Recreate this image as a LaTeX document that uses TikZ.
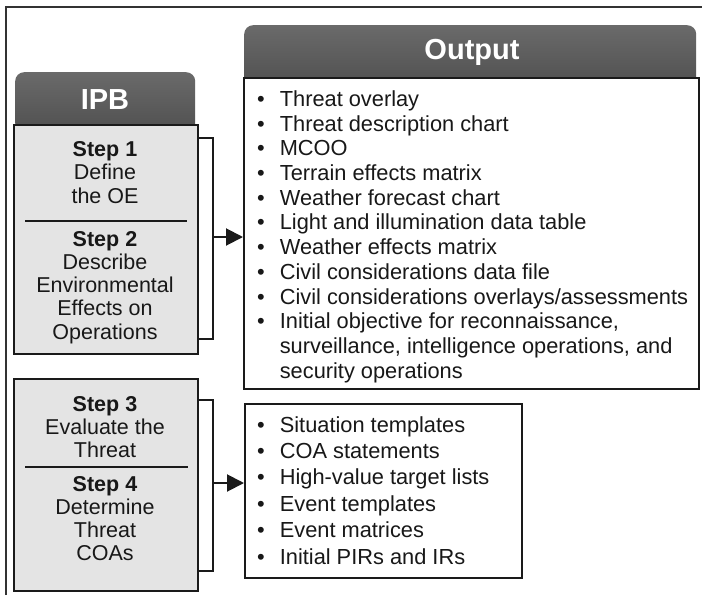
\documentclass[tikz,border=0pt]{standalone}
\usepackage{fontspec}
\setmainfont{Liberation Sans}
\usetikzlibrary{arrows.meta,positioning,calc}
\definecolor{txt}{HTML}{181818}
\definecolor{hdrtop}{HTML}{6A6A6A}
\definecolor{hdrmid}{HTML}{474747}
\definecolor{hdrbot}{HTML}{505050}
\definecolor{stepfill}{HTML}{E4E4E4}
\definecolor{frame}{HTML}{1A1A1A}
\tikzset{
  hdr/.style={rounded corners=9pt, top color=hdrtop, middle color=hdrmid, bottom color=hdrbot, draw=none},
  ipbbody/.style={draw=frame, line width=2.4pt, fill=stepfill, minimum width=184pt, inner sep=0pt},
  outbody/.style={draw=frame, line width=2.4pt, fill=white, inner sep=0pt},
  steptext/.style={inner sep=0pt, anchor=north, text=txt, font=\fontsize{21.5}{23.5}\selectfont},
  listtext/.style={inner sep=0pt, anchor=north west, text=txt},
  hdrtext/.style={inner sep=0pt, text=white, font=\fontsize{29}{32}\selectfont\bfseries},
  sepline/.style={draw=frame, line width=1.8pt},
  bracket/.style={draw=frame, line width=2pt},
  feed/.style={draw=frame, line width=2pt, -{Triangle[length=17pt,width=17pt]}},
  outerframe/.style={draw=black!80, line width=1.2pt}
}
\begin{document}
\begin{tikzpicture}[x=1pt,y=-1pt]
\useasboundingbox (0,0) rectangle (702,595);
\fill[white] (0,0) rectangle (702,595);
% outer frame (top and left edges)
\coordinate (fa) at (6,595);
\coordinate (fb) at (6,7);
\coordinate (fc) at (702,7);
\draw[outerframe] (fa) -- (fb) -- (fc);

% ---------- IPB upper ----------
\node[hdr, minimum width=180pt, minimum height=60pt, anchor=north west] (ipbhdr) at (15,72) {};
\node[ipbbody, minimum height=229pt, anchor=north west] (ipb1) at (13,124) {};
\node[hdrtext] (ipbtitle) at (105,99.5) {IPB};
\node[steptext] (s1) at (105,139.5) {\begin{tabular}{@{}c@{}}\textbf{Step 1}\\Define\\the OE\end{tabular}};
\coordinate (sep1a) at (25,221);
\coordinate (sep1b) at (187,221);
\draw[sepline] (sep1a) -- (sep1b);
\node[steptext, font=\fontsize{21.5}{23.3}\selectfont] (s2) at (105,229.5) {\begin{tabular}{@{}c@{}}\textbf{Step 2}\\Describe\\Environmental\\Effects on\\Operations\end{tabular}};

% ---------- IPB lower ----------
\node[ipbbody, minimum height=212pt, anchor=north west] (ipb2) at (13,378) {};
\node[steptext, font=\fontsize{21.5}{23.3}\selectfont] (s3) at (105,394.5) {\begin{tabular}{@{}c@{}}\textbf{Step 3}\\Evaluate the\\Threat\end{tabular}};
\coordinate (sep2a) at (25,467);
\coordinate (sep2b) at (188,467);
\draw[sepline] (sep2a) -- (sep2b);
\node[steptext, font=\fontsize{21.5}{23.3}\selectfont] (s4) at (105,474.5) {\begin{tabular}{@{}c@{}}\textbf{Step 4}\\Determine\\Threat\\COAs\end{tabular}};

% ---------- Output upper ----------
\node[hdr, minimum width=452pt, minimum height=62pt, anchor=north west] (outhdr) at (244,25) {};
\node[outbody, minimum width=455pt, minimum height=311pt, anchor=north west] (out1) at (243,77) {};
\node[hdrtext] (outtitle) at (472,52) {Output};
\node[listtext, font=\fontsize{21.8}{24.7}\selectfont] (list1) at (257,89) {%
\begin{tabular}{@{}l@{\hspace{15pt}}l@{}}
\textbullet & Threat overlay\\
\textbullet & Threat description chart\\
\textbullet & MCOO\\
\textbullet & Terrain effects matrix\\
\textbullet & Weather forecast chart\\
\textbullet & Light and illumination data table\\
\textbullet & Weather effects matrix\\
\textbullet & Civil considerations data file\\
\textbullet & Civil considerations overlays/assessments\\
\textbullet & Initial objective for reconnaissance,\\
 & surveillance, intelligence operations, and\\
 & security operations
\end{tabular}};

% ---------- Output lower ----------
\node[outbody, minimum width=277pt, minimum height=174pt, anchor=north west] (out2) at (244,403) {};
\node[listtext, font=\fontsize{21.8}{26.4}\selectfont] (list2) at (257,413.5) {%
\begin{tabular}{@{}l@{\hspace{15pt}}l@{}}
\textbullet & Situation templates\\
\textbullet & COA statements\\
\textbullet & High-value target lists\\
\textbullet & Event templates\\
\textbullet & Event matrices\\
\textbullet & Initial PIRs and IRs
\end{tabular}};

% ---------- brackets and arrows ----------
\coordinate (b1t) at (ipb1.east |- 0,138);
\coordinate (b1tr) at (213,138);
\coordinate (b1br) at (213,339);
\coordinate (b1b) at (ipb1.east |- 0,339);
\draw[bracket] (b1t) -- (b1tr) -- (b1br) -- (b1b);
\coordinate (a1) at (213,237);
\draw[feed] (a1) -- (a1 -| out1.west);

\coordinate (b2t) at (ipb2.east |- 0,400);
\coordinate (b2tr) at (213,400);
\coordinate (b2br) at (213,571);
\coordinate (b2b) at (ipb2.east |- 0,571);
\draw[bracket] (b2t) -- (b2tr) -- (b2br) -- (b2b);
\coordinate (a2) at (213,483);
\draw[feed] (a2) -- (a2 -| out2.west);
\end{tikzpicture}
\end{document}
